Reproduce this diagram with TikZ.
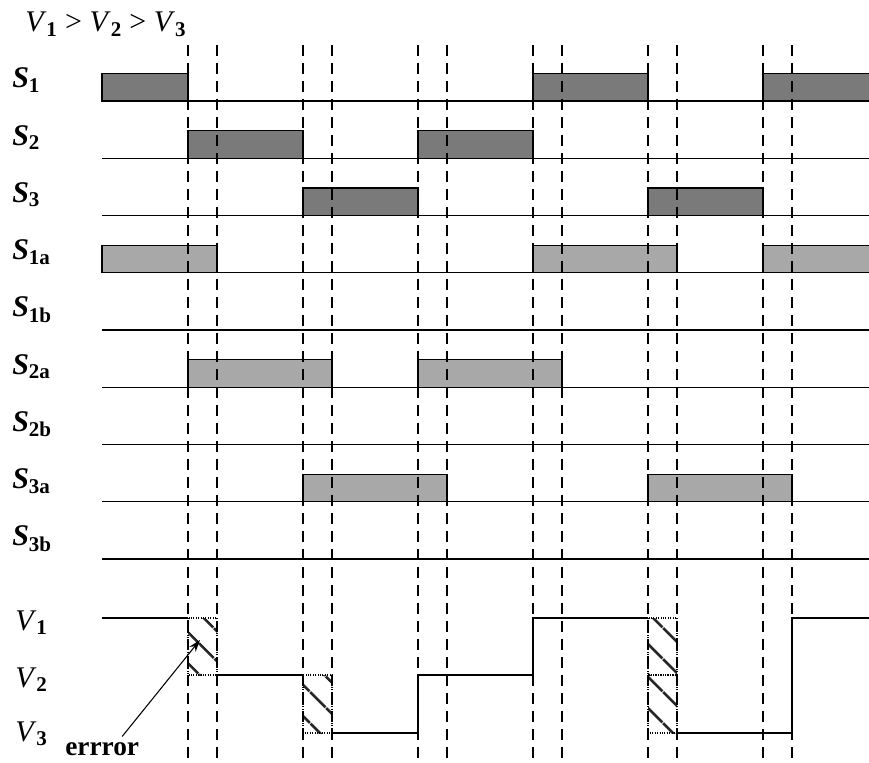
\documentclass[tikz,border=0pt]{standalone}
\usepackage{fontspec}
\setmainfont{Liberation Serif}
\usetikzlibrary{arrows.meta, patterns.meta, positioning}

\begin{document}
\begin{tikzpicture}[x=0.75pt, y=-0.75pt]

% Define styles
\tikzstyle{sig} = [anchor=base west, inner sep=0pt, font=\fontsize{22.5}{27}\selectfont]
\tikzstyle{axis} = [line width=1pt]
\tikzstyle{darkbox} = [draw=black, line width=1pt, fill=black!52]
\tikzstyle{lightbox} = [draw=black, line width=1pt, fill=black!34]
\tikzstyle{guide} = [line width=1.1pt, dash pattern=on 8.5pt off 5pt]
\tikzstyle{errbox} = [densely dotted, line width=0.8pt, pattern={Lines[angle=-45, distance=17pt, line width=2.2pt]}, pattern color=black!85]
\tikzstyle{arrow} = [line width=0.8pt, -{Stealth[length=9pt, width=6pt]}]

\useasboundingbox (0,0) rectangle (869,763);

% Title
\node (title) [sig] at (25,32) {\textit{V}\textsubscript{\textbf{1}} > \textit{V}\textsubscript{\textbf{2}} > \textit{V}\textsubscript{\textbf{3}}};

% Switch rows
\foreach \sub [count=\i from 0] in {1,2,3,1a,1b,2a,2b,3a,3b} {
  \node (s\sub) [sig] at (12, {88+57.25*\i}) {\textbf{\textit{S}}\textsubscript{\textbf{\sub}}};
  \draw [axis] (102, {101+57.25*\i}) -- (875, {101+57.25*\i});
}

% S1, S2, S3
\draw [darkbox] (102,73.5) rectangle (188,101);
\draw [darkbox] (533,73.5) rectangle (648,101);
\draw [darkbox] (763,73.5) rectangle (875,101);
\draw [darkbox] (188,130.75) rectangle (303,158.25);
\draw [darkbox] (418,130.75) rectangle (533,158.25);
\draw [darkbox] (303,188) rectangle (418,215.5);
\draw [darkbox] (648,188) rectangle (763,215.5);

% S1a, S2a, S3a
\draw [lightbox] (102,245.25) rectangle (217,272.75);
\draw [lightbox] (533,245.25) rectangle (677,272.75);
\draw [lightbox] (763,245.25) rectangle (875,272.75);
\draw [lightbox] (188,359.75) rectangle (332,387.25);
\draw [lightbox] (418,359.75) rectangle (562,387.25);
\draw [lightbox] (303,474.25) rectangle (447,501.75);
\draw [lightbox] (648,474.25) rectangle (792,501.75);

% Output voltage
\node (v1) [sig] at (15,630) {\textit{V}\textsubscript{\textbf{1}}};
\node (v2) [sig] at (15,687) {\textit{V}\textsubscript{\textbf{2}}};
\node (v3) [sig] at (15,741) {\textit{V}\textsubscript{\textbf{3}}};

\draw [axis] (102,618) -- (188,618);
\draw [axis] (217,675) -- (303,675);
\draw [axis] (332,733) -- (418,733) -- (418,675) -- (533,675) -- (533,618) -- (648,618);
\draw [axis] (677,733) -- (792,733) -- (792,618) -- (875,618);

\draw [errbox] (188,618) rectangle (217,675);
\draw [errbox] (303,675) rectangle (332,733);
\draw [errbox] (648,618) rectangle (677,675);
\draw [errbox] (648,675) rectangle (677,733);

% Switching instants
\foreach \x in {188,217,303,332,418,447,533,562,648,677,763,792}
  \draw [guide] (\x,45) -- (\x,763);

% Error note
\node (errtext) [anchor=base west, inner sep=0pt, font=\fontsize{20.5}{24}\selectfont\bfseries] at (65,755) {errror};
\coordinate (errtip) at (200,640);
\draw [arrow] ([xshift=15pt, yshift=4pt]errtext.north) -- (errtip);

\end{tikzpicture}
\end{document}
